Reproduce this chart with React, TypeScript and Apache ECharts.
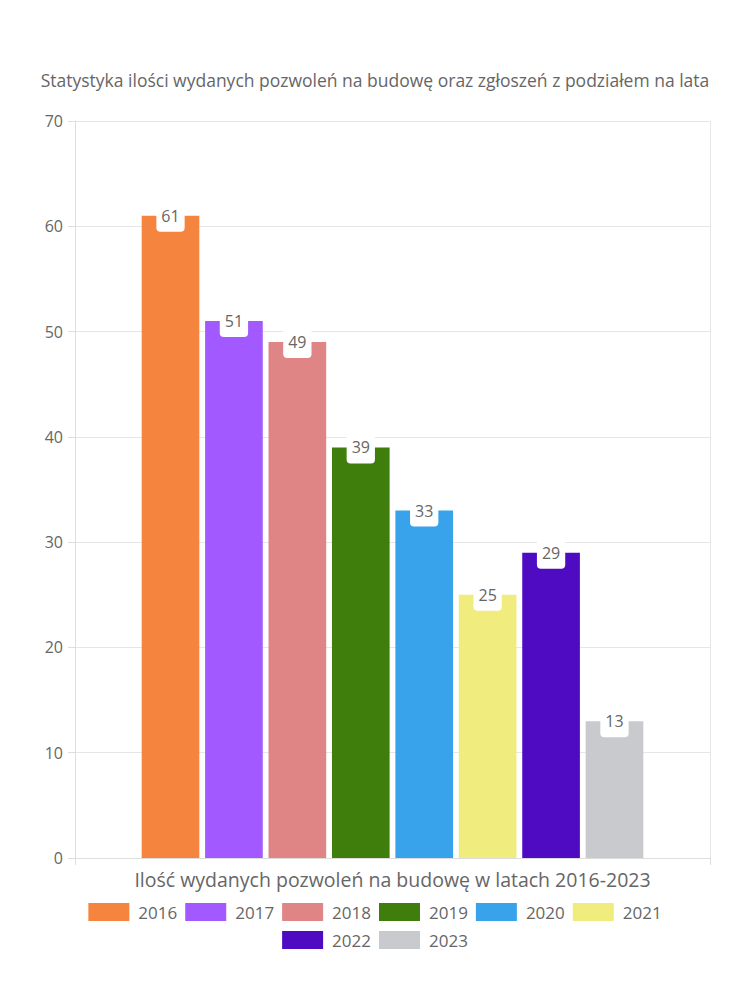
import React, { useEffect, useRef } from "react";
import * as echarts from "echarts";

const titleText = "Statystyka ilości wydanych pozwoleń na budowę oraz zgłoszeń z podziałem na lata";
const categories = ["Ilość wydanych pozwoleń na budowę w latach 2016-2023"];
const years = ["2016", "2017", "2018", "2019", "2020", "2021", "2022", "2023"];
const values = [61, 51, 49, 39, 33, 25, 29, 13];
const colors = ["#F5843F", "#A259FF", "#E08585", "#3F7D0D", "#38A3EB", "#F0EC7E", "#4F0BC2", "#C9CACE"];
const legendRow1 = ["2016", "2017", "2018", "2019", "2020", "2021"];
const legendRow2 = ["2022", "2023"];

const FONT = "'Open Sans', sans-serif";
const TXT = "#666";

export default function App() {
  const ref = useRef<HTMLDivElement>(null);
  useEffect(() => {
    if (!ref.current) return;
    const chart = echarts.init(ref.current, undefined, { renderer: "svg" });
    const legendCommon = {
      left: "center",
      orient: "horizontal",
      itemWidth: 41,
      itemHeight: 18,
      itemGap: 8,
      icon: "rect",
      textStyle: { fontFamily: FONT, fontSize: 17, color: TXT, padding: [0, 0, 0, 4] },
    };
    chart.setOption({
      animation: false,
      textStyle: { fontFamily: FONT },
      title: {
        text: titleText,
        left: "center",
        top: 66,
        textStyle: { fontFamily: FONT, fontSize: 17.5, fontWeight: "normal", color: TXT },
      },
      grid: { left: 75, right: 40, top: 121, bottom: 142, containLabel: false },
      legend: [
        { ...legendCommon, top: 898, data: legendRow1 },
        { ...legendCommon, top: 926, data: legendRow2 },
      ],
      xAxis: {
        type: "category",
        data: categories,
        axisLine: { show: true, lineStyle: { color: "#ddd" } },
        axisTick: { show: true, length: 7, lineStyle: { color: "#ddd" } },
        splitLine: { show: true, lineStyle: { color: "#e6e6e6" } },
        axisLabel: { fontFamily: FONT, fontSize: 19.5, color: TXT, margin: 11 },
      },
      yAxis: {
        type: "value",
        min: 0,
        max: 70,
        interval: 10,
        axisLine: { show: true, lineStyle: { color: "#ddd" } },
        axisTick: { show: true, length: 7, lineStyle: { color: "#ddd" } },
        splitLine: { show: true, lineStyle: { color: "#e6e6e6" } },
        axisLabel: { fontFamily: FONT, fontSize: 16, color: TXT, margin: 12 },
      },
      series: years.map((y, i) => ({
        name: y,
        type: "bar",
        data: [values[i]],
        barGap: "10%",
        barCategoryGap: "21%",
        itemStyle: { color: colors[i] },
        label: {
          show: true,
          position: "top",
          distance: -16,
          fontFamily: FONT,
          fontSize: 16,
          color: TXT,
          backgroundColor: "#fff",
          padding: [8, 5, 8, 5],
          borderRadius: [0, 0, 4, 4],
        },
      })),
    });
    return () => chart.dispose();
  }, []);
  return <div ref={ref} style={{ width: 750, height: 1000, margin: -8 }} />;
}
